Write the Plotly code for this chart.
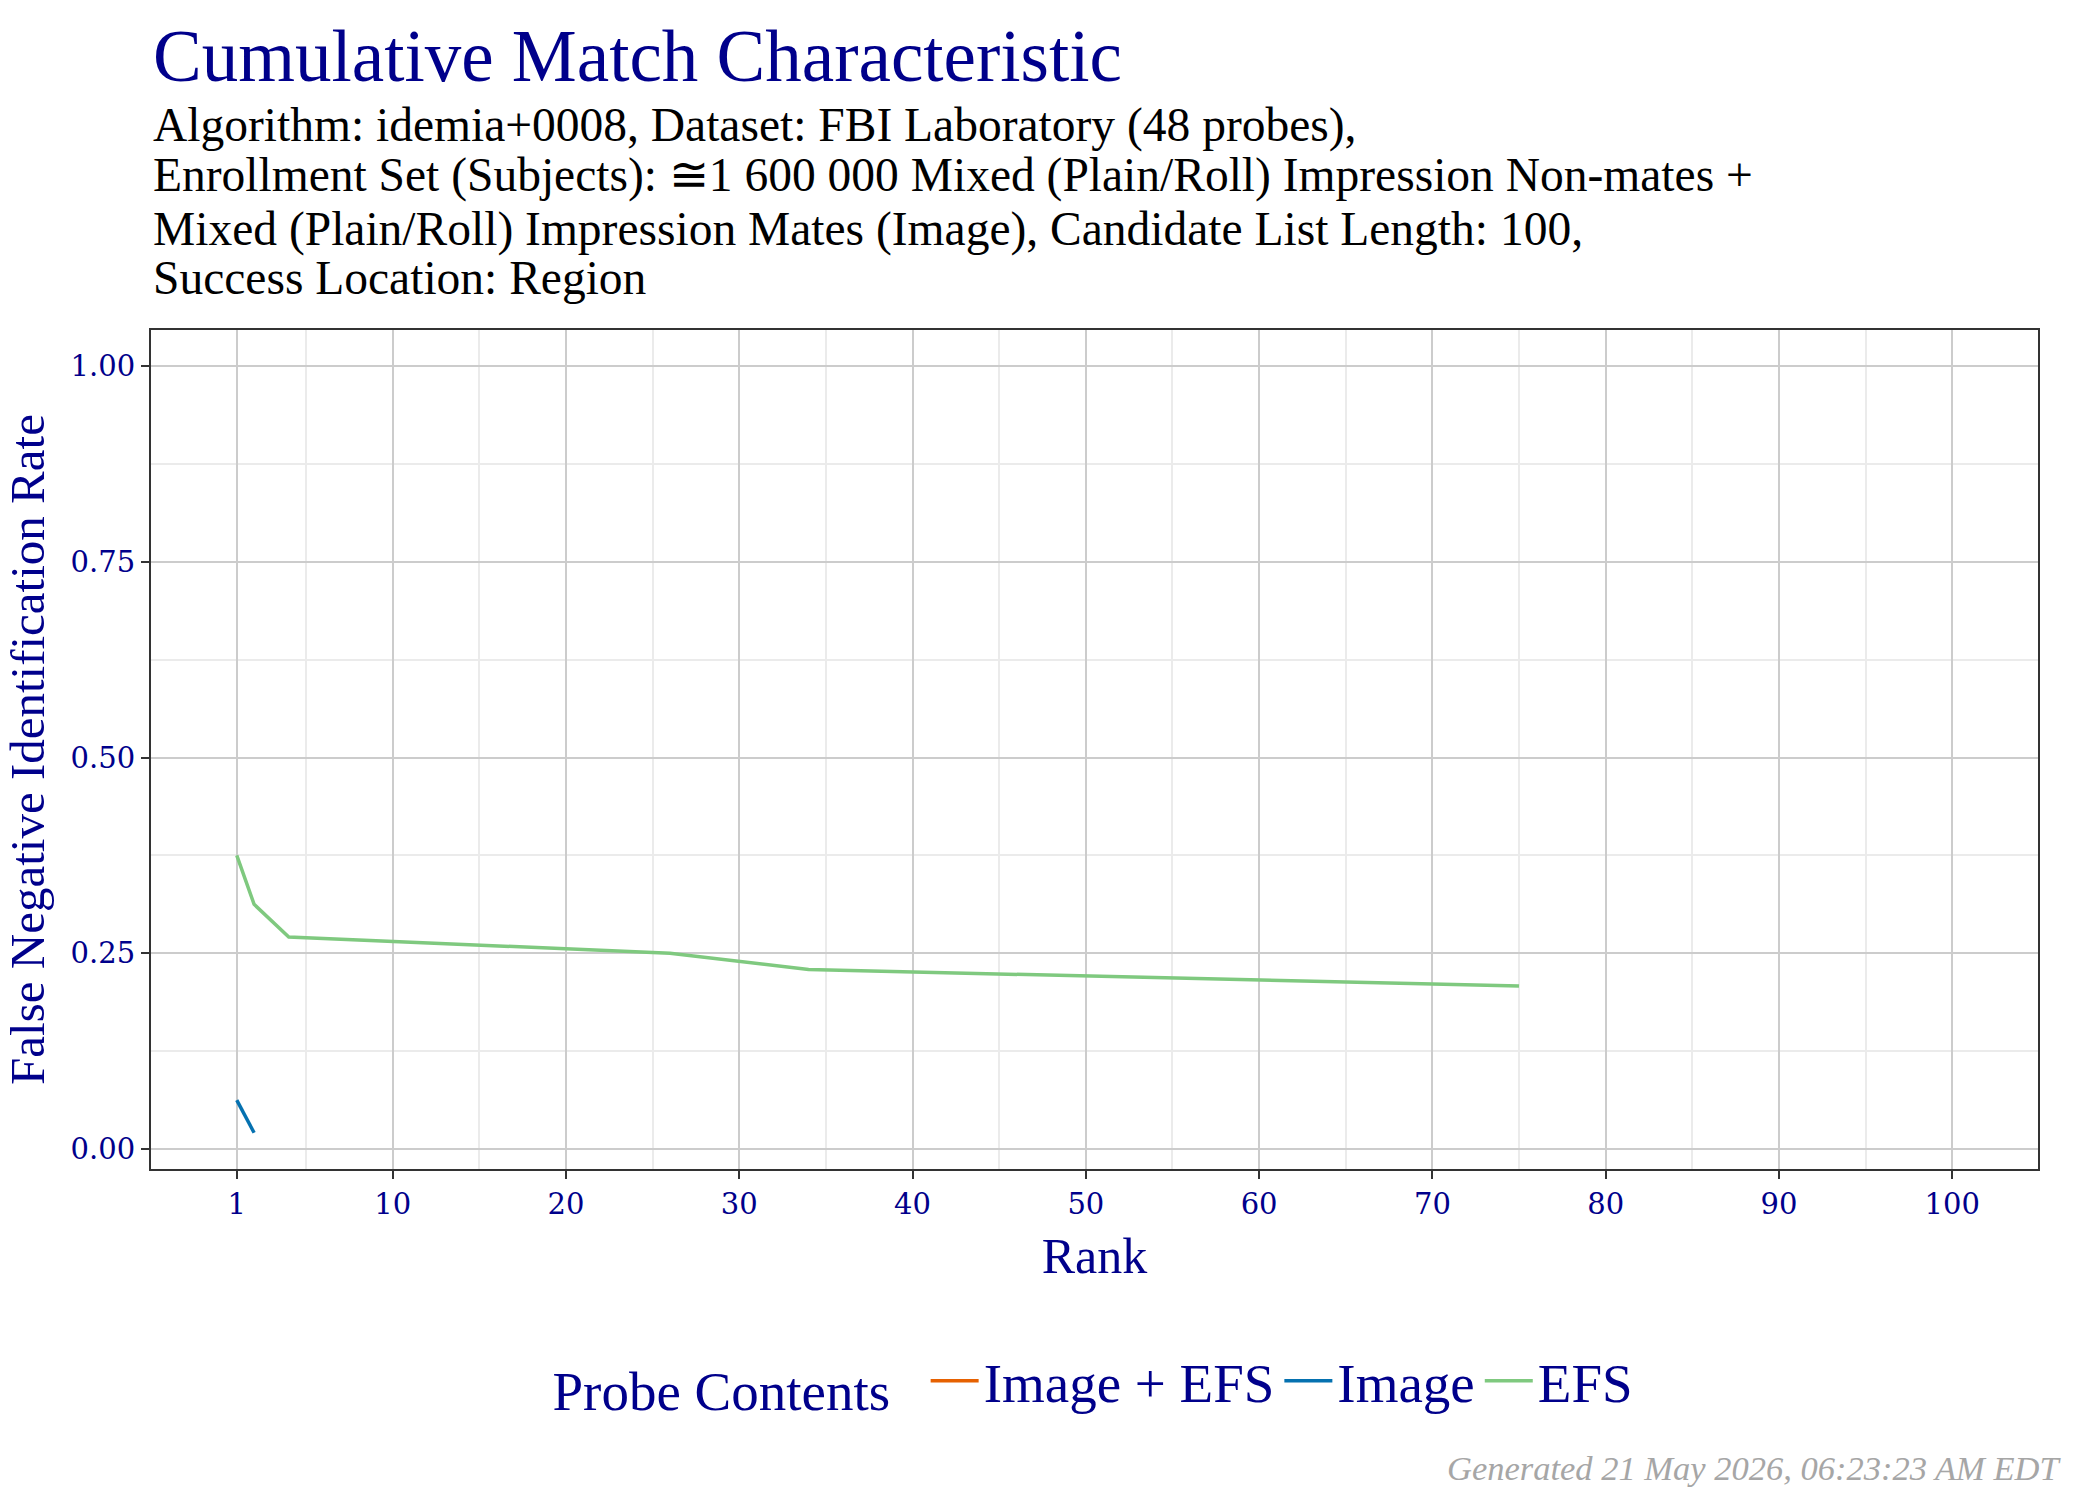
import plotly.graph_objects as go

# ---- data ----
series_names = ["Image + EFS", "Image", "EFS"]
series_colors = ["#E66101", "#0571B0", "#7FC97F"]

rank_img_efs = [None]
fnir_img_efs = [None]

rank_img = [1, 2]
fnir_img = [0.0625, 0.0208]

rank_efs = [1, 2, 4, 26, 34, 75]
fnir_efs = [0.375, 0.3125, 0.2708, 0.25, 0.2292, 0.2083]

x_tickvals = [1, 10, 20, 30, 40, 50, 60, 70, 80, 90, 100]
y_tickvals = [0, 0.25, 0.5, 0.75, 1.0]

title_text = "Cumulative Match Characteristic"
subtitle_lines = [
    "Algorithm: idemia+0008, Dataset: FBI Laboratory (48 probes),",
    "Enrollment Set (Subjects): \u22451 600 000 Mixed (Plain/Roll) Impression Non-mates +",
    "Mixed (Plain/Roll) Impression Mates (Image), Candidate List Length: 100,",
    "Success Location: Region",
]
footer_text = "Generated 21 May 2026, 06:23:23 AM EDT"

# ---- figure ----
NAVY = "#00008B"
SERIF = "Liberation Serif, DejaVu Serif, serif"
TICKFONT = "DejaVu Serif, serif"

fig = go.Figure()
for name, color, xs, ys in zip(series_names, series_colors,
                               [rank_img_efs, rank_img, rank_efs],
                               [fnir_img_efs, fnir_img, fnir_efs]):
    fig.add_trace(go.Scatter(x=xs, y=ys, mode="lines", name=name,
                             line=dict(color=color, width=3.5)))

W, H = 2100, 1500
L, R, T, B = 151, 62, 330, 331
ph = H - T - B

def py(p):
    return (H - B - p) / ph

annotations = [
    dict(text=title_text, x=0, y=py(57), xref="paper", yref="paper",
         xanchor="left", yanchor="middle", showarrow=False,
         font=dict(family=SERIF, size=73, color=NAVY)),
]
for i, (line, c) in enumerate(zip(subtitle_lines, [126, 175, 229, 278])):
    annotations.append(dict(text=line, x=0, y=py(c), xref="paper", yref="paper",
                            xanchor="left", yanchor="middle", showarrow=False,
                            font=dict(family=SERIF, size=47.5, color="black")))
annotations.append(dict(text="<i>" + footer_text + "</i>", x=(2063 - L) / (W - L - R),
                        y=py(1468), xref="paper", yref="paper",
                        xanchor="right", yanchor="middle", showarrow=False,
                        font=dict(family=SERIF, size=34.5, color="#A6A6A6")))

fig.update_layout(
    width=W, height=H,
    margin=dict(l=L, r=R, t=T, b=B, autoexpand=False),
    paper_bgcolor="white", plot_bgcolor="white",
    showlegend=True,
    legend=dict(orientation="h", x=0.5, xanchor="center", y=py(1381), yanchor="middle",
                title=dict(text="Probe Contents  ", side="left",
                           font=dict(family=SERIF, size=55, color=NAVY)),
                font=dict(family=SERIF, size=55, color=NAVY),
                itemwidth=48, traceorder="normal"),
    annotations=annotations,
)

fig.update_xaxes(
    range=[-3.95, 104.95], tickmode="array", tickvals=x_tickvals,
    ticks="outside", ticklen=8, tickwidth=2, tickcolor="#333333",
    tickfont=dict(family=TICKFONT, size=29, color=NAVY),
    showgrid=True, gridcolor="#CCCCCC", gridwidth=2,
    minor=dict(tickmode="linear", tick0=5, dtick=10, showgrid=True,
               gridcolor="#EBEBEB", gridwidth=1.5, ticks=""),
    showline=True, mirror=True, linecolor="#333333", linewidth=2,
    zeroline=False,
    title=dict(text="Rank", standoff=18, font=dict(family=SERIF, size=50, color=NAVY)),
)
fig.update_yaxes(
    range=[-0.0255, 1.046], tickmode="array", tickvals=y_tickvals, tickformat=".2f",
    ticks="outside", ticklen=8, tickwidth=2, tickcolor="#333333",
    tickfont=dict(family=TICKFONT, size=29, color=NAVY),
    showgrid=True, gridcolor="#CCCCCC", gridwidth=2,
    minor=dict(tickmode="linear", tick0=0.125, dtick=0.25, showgrid=True,
               gridcolor="#EBEBEB", gridwidth=1.5, ticks=""),
    showline=True, mirror=True, linecolor="#333333", linewidth=2,
    zeroline=False,
    title=dict(text="False Negative Identification Rate", standoff=10,
               font=dict(family=SERIF, size=49, color=NAVY)),
)

fig.write_html("out.html")
